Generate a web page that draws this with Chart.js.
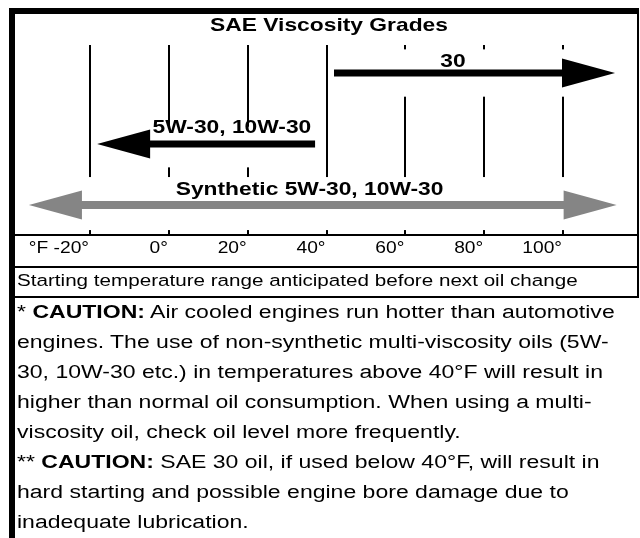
<!DOCTYPE html>
<html>
<head>
<meta charset="utf-8">
<script src="https://cdn.jsdelivr.net/npm/chart.js@4.4.1/dist/chart.umd.min.js"></script>
<style>
  html, body { margin: 0; padding: 0; background: #fff; }
  body { width: 640px; height: 538px; position: relative; overflow: hidden;
         font-family: "Liberation Sans", Arial, sans-serif; color: #000; }
  #chart { position: absolute; left: 0; top: 0; }
  .bar { position: absolute; background: #000; }
  .txt { position: absolute; left: 17px; white-space: nowrap;
         transform: scaleX(1.2); transform-origin: 0 0; }
  #rangeNote { top: 271.6px; font-size: 17.2px; line-height: 1; }
  #notes { top: 296.6px; font-size: 19.2px; line-height: 30px; }
</style>
</head>
<body>
<canvas id="chart" width="640" height="266"></canvas>

<!-- frame and rules -->
<div class="bar" style="left:9px; top:8px; width:630px; height:6px;"></div>
<div class="bar" style="left:9px; top:8px; width:6px; height:530px;"></div>
<div class="bar" style="left:637px; top:8px; width:2px; height:290px;"></div>
<div class="bar" style="left:9px; top:265.5px; width:630px; height:2px;"></div>
<div class="bar" style="left:9px; top:296px; width:630px; height:2px;"></div>

<div class="txt" id="rangeNote">Starting temperature range anticipated before next oil change</div>
<div class="txt" id="notes">* <b>CAUTION:</b> Air cooled engines run hotter than automotive<br>engines. The use of non-synthetic multi-viscosity oils (5W-<br>30, 10W-30 etc.) in temperatures above 40°F will result in<br>higher than normal oil consumption. When using a multi-<br>viscosity oil, check oil level more frequently.<br>** <b>CAUTION:</b> SAE 30 oil, if used below 40°F, will result in<br>hard starting and possible engine bore damage due to<br>inadequate lubrication.</div>

<script>
// ---- data ----
const chartTitle = 'SAE Viscosity Grades';
const grades = ['30', '5W-30, 10W-30', 'Synthetic 5W-30, 10W-30'];
const lowF = [41.9, -18.2, -35.5];      // left end of each range (°F)
const highF = [113.2, 37.1, 113.6];     // right end of each range (°F)
const headOnLow = [false, true, true];
const headOnHigh = [true, false, true];
const rowLevel = [85.3, 47.9, 15.8];    // vertical row of each arrow (0-100)
const tickF = [-20, 0, 20, 40, 60, 80, 100];
const tickText = ['°F -20°', '0°', '20°', '40°', '60°', '80°', '100°'];

// ---- styles ----
const arrowColor = ['#000', '#000', '#858585'];
const shaftWidth = [7, 7, 8];
const HEAD_F = 13.45;      // arrow head length, in °F
const HEAD_HALF = 14.5;    // arrow head half height, px
const SX = 1.2;            // horizontal stretch of the lettering
const FONT = '"Liberation Sans", Arial, sans-serif';

// label anchors (°F, row) and white knock-out areas behind the arrows
const labelAt = [[72.1, 88.4], [16.0, 53.7], [35.7, 20.9]];
const knockouts = [
  [41.5, 114, 72.8, 97.7],
  [-18.7, 38.4, 35.6, 57.0],
  [null, null, 2.6, 30.5]
];

function stretchedText(ctx, txt, x, y, font, align) {
  ctx.save();
  ctx.font = font;
  ctx.textAlign = align;
  ctx.textBaseline = 'alphabetic';
  ctx.fillStyle = '#000';
  ctx.translate(x, y);
  ctx.scale(SX, 1);
  ctx.fillText(txt, 0, 0);
  ctx.restore();
}

const gradePlugin = {
  id: 'grades',
  beforeDatasetsDraw(chart) {
    const { ctx, chartArea: a, scales: { x, y } } = chart;
    ctx.save();
    ctx.fillStyle = '#fff';
    knockouts.forEach(k => {
      const l = k[0] === null ? a.left : x.getPixelForValue(k[0]);
      const r = k[1] === null ? a.right : x.getPixelForValue(k[1]);
      const t = y.getPixelForValue(k[3]);
      const b = y.getPixelForValue(k[2]);
      ctx.fillRect(l, t, r - l, b - t);
    });
    ctx.restore();
  },
  afterDatasetsDraw(chart) {
    const { ctx, chartArea: a, scales: { x, y } } = chart;
    grades.forEach((g, i) => {
      const py = y.getPixelForValue(rowLevel[i]);
      ctx.fillStyle = arrowColor[i];
      const heads = [];
      if (headOnLow[i]) heads.push([lowF[i], lowF[i] + HEAD_F]);
      if (headOnHigh[i]) heads.push([highF[i], highF[i] - HEAD_F]);
      heads.forEach(([tip, base]) => {
        const tx = x.getPixelForValue(tip), bx = x.getPixelForValue(base);
        ctx.beginPath();
        ctx.moveTo(tx, py);
        ctx.lineTo(bx, py - HEAD_HALF);
        ctx.lineTo(bx, py + HEAD_HALF);
        ctx.closePath();
        ctx.fill();
      });
      stretchedText(ctx, g, x.getPixelForValue(labelAt[i][0]), y.getPixelForValue(labelAt[i][1]),
        'bold 19px ' + FONT, 'center');
    });
    // title
    stretchedText(ctx, chartTitle, (a.left + a.right) / 2 + 3, a.top - 14.3, 'bold 19px ' + FONT, 'center');
    // tick labels, right aligned on each tick
    tickF.forEach((v, i) => {
      stretchedText(ctx, tickText[i], x.getPixelForValue(v) - 1, x.top + 18.3, '16px ' + FONT, 'right');
    });
  }
};

new Chart(document.getElementById('chart'), {
  type: 'scatter',
  data: {
    datasets: grades.map((g, i) => ({
      label: g,
      data: [
        { x: headOnLow[i] ? lowF[i] + HEAD_F - 0.3 : lowF[i], y: rowLevel[i] },
        { x: headOnHigh[i] ? highF[i] - HEAD_F + 0.3 : highF[i], y: rowLevel[i] }
      ],
      showLine: true,
      borderColor: arrowColor[i],
      borderWidth: shaftWidth[i],
      borderCapStyle: 'butt',
      pointRadius: 0,
      clip: false
    }))
  },
  options: {
    responsive: false,
    animation: false,
    devicePixelRatio: 1,
    layout: { padding: { top: 45, left: 15, right: 3, bottom: 0 } },
    plugins: { legend: { display: false }, tooltip: { enabled: false }, title: { display: false } },
    scales: {
      x: {
        type: 'linear',
        position: 'bottom',
        min: -39.03,
        max: 118.77,
        afterBuildTicks: s => { s.ticks = tickF.map(v => ({ value: v })); },
        afterFit: s => { s.height = 31; },
        ticks: { display: false },
        grid: { color: '#000', lineWidth: 2, drawTicks: false },
        border: { display: true, color: '#000', width: 2 }
      },
      y: { type: 'linear', display: false, min: 0, max: 100 }
    }
  },
  plugins: [gradePlugin]
});
</script>
</body>
</html>
